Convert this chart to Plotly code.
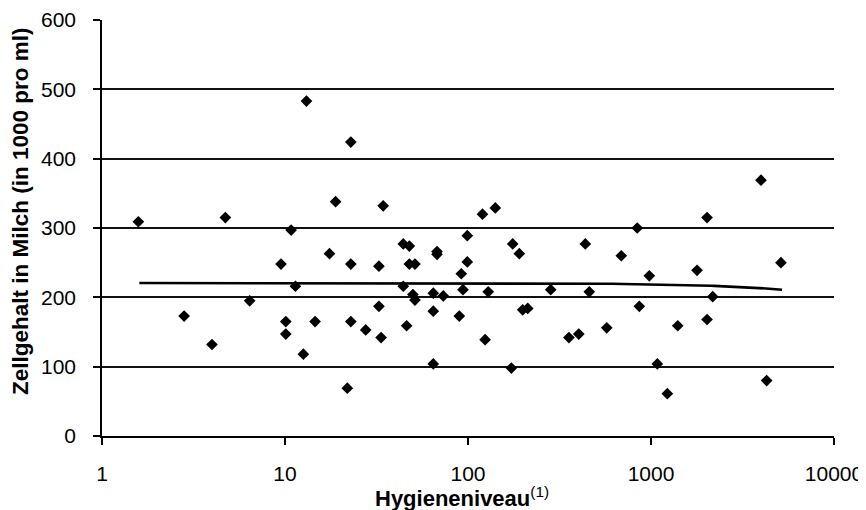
import numpy as np
import plotly.graph_objects as go

# Data
hygiene_level = [1.58, 2.81, 3.99, 4.72, 6.41, 9.51, 10.1, 10.1, 10.8, 11.4,
                 12.6, 13.1, 14.6, 17.5, 18.9, 21.9, 22.9, 22.9, 22.9, 27.6,
                 32.6, 32.6, 33.5, 34.4, 44.3, 44.3, 46.2, 47.8, 47.8, 50.0,
                 51.3, 51.3, 64.6, 64.6, 64.6, 67.7, 67.7, 73.3, 89.6, 91.9,
                 93.9, 99.1, 99.1, 120, 124, 129, 141, 172.5, 175.5, 190.7,
                 199, 212, 283, 356, 403, 437.6, 460, 573, 688, 841,
                 863, 979, 1083, 1228, 1400, 1784, 2024, 2024, 2174, 3990,
                 4285, 5130]
cell_count = [309, 173, 132, 315, 195, 248, 165, 147, 297, 216,
              118, 483, 165, 263, 338, 69, 424, 248, 165, 153,
              245, 187, 142, 332, 277, 216, 159, 274, 248, 204,
              248, 196, 206, 180, 104, 266, 262, 202, 173, 234,
              211, 289, 251, 320, 139, 208, 329, 98, 277, 263,
              182, 184, 211, 142, 147, 277, 208, 156, 260, 300,
              187, 231, 104, 61, 159, 239, 315, 168, 201, 369,
              80, 250]

# Linear trend line (as drawn in the reference)
trend_intercept = 220.6
trend_slope = -0.00185
trend_x_range = [1.6, 5200]

x_tick_vals = [1, 10, 100, 1000, 10000]
x_tick_text = ["1", "10", "100", "1000", "10000"]
y_tick_vals = [0, 100, 200, 300, 400, 500, 600]

x_title = "<b>Hygieneniveau</b><sup>(1)</sup>"
y_title = "<b>Zellgehalt in Milch (in 1000 pro ml)</b>"

trend_x = np.geomspace(trend_x_range[0], trend_x_range[1], 200)
trend_y = trend_intercept + trend_slope * trend_x

fig = go.Figure()
fig.add_trace(go.Scatter(
    x=hygiene_level, y=cell_count, mode="markers",
    marker=dict(symbol="diamond", size=9, color="black"),
    showlegend=False, hoverinfo="x+y"))
fig.add_trace(go.Scatter(
    x=trend_x, y=trend_y, mode="lines",
    line=dict(color="black", width=2.6),
    showlegend=False, hoverinfo="skip"))

font_family = "Liberation Sans, Arial, sans-serif"

# The page body adds an 8px margin, so the figure is sized to fit the window.
fig.update_layout(
    width=858, height=502,
    margin=dict(l=94, r=32, t=12, b=74),
    paper_bgcolor="white", plot_bgcolor="white",
    font=dict(family=font_family, color="black", size=21),
    xaxis=dict(
        type="log", range=[0, 4], automargin=False,
        tickvals=x_tick_vals, ticktext=x_tick_text,
        showgrid=False, zeroline=False,
        showline=True, linecolor="black", linewidth=1.5,
        ticks="outside", ticklen=7, tickcolor="black", tickwidth=1.5,
        tickfont=dict(size=21),
        ticklabelstandoff=11,
    ),
    yaxis=dict(
        range=[0, 600], tickvals=y_tick_vals, automargin=False,
        showgrid=True, gridcolor="#111111", gridwidth=1.5,
        zeroline=False,
        showline=True, linecolor="black", linewidth=1.5,
        ticks="outside", ticklen=7, tickcolor="black", tickwidth=1.5,
        tickfont=dict(size=21),
        ticklabelstandoff=13,
    ),
    annotations=[
        dict(text=x_title, xref="paper", yref="paper", x=0.492, y=0,
             xanchor="center", yanchor="middle", yshift=-61,
             showarrow=False, font=dict(size=22)),
        dict(text=y_title, xref="paper", yref="paper", x=0, y=0.541,
             xanchor="center", yanchor="middle", xshift=-81,
             textangle=-90, showarrow=False, font=dict(size=22.5)),
    ],
)

fig.write_html("out.html")
